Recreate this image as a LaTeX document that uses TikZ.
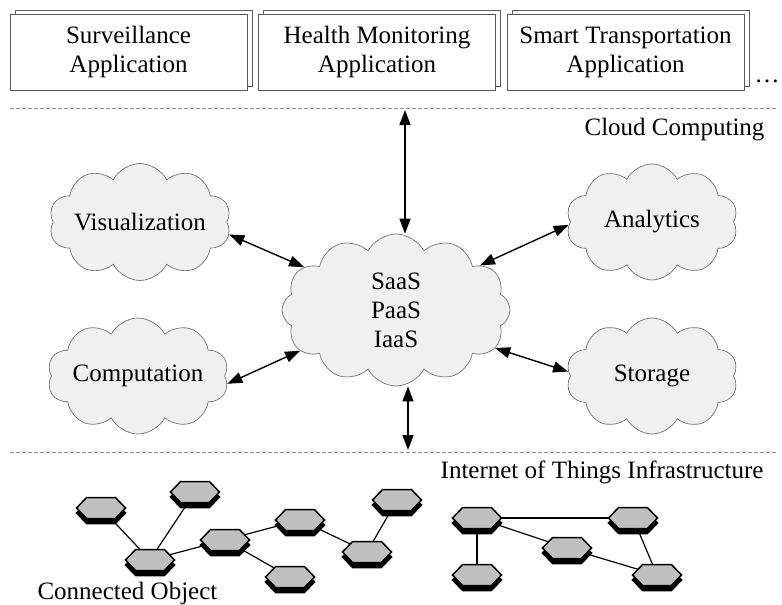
\documentclass[tikz,border=0pt]{standalone}
\usepackage{fontspec}
\setmainfont{Liberation Serif}
\usetikzlibrary{shapes.symbols,shapes.geometric,arrows.meta,shadows,backgrounds}
\begin{document}
\begin{tikzpicture}[x=1pt,y=-1pt,
  font=\fontsize{25}{29}\selectfont,
  appbox/.style={draw=black!65, line width=0.8pt, fill=white, minimum width=237pt, minimum height=76pt,
     align=center, inner sep=0pt,
     copy shadow={shadow xshift=5pt, shadow yshift=4pt, draw=black!65, fill=white}},
  sky/.style={cloud, cloud puffs=10, cloud puff arc=125, cloud ignores aspect, draw=black!55, line width=0.7pt,
     fill=black!6, inner sep=0pt},
  sepline/.style={draw=black!45, line width=0.9pt, dash pattern=on 4pt off 2pt},
  biarrow/.style={line width=1.4pt, {Triangle[length=15pt,width=11pt]}-{Triangle[length=15pt,width=11pt]}},
  hexn/.style={signal, signal to=east and west, signal pointer angle=92, draw=black, line width=1.5pt,
     fill=black!25, minimum width=49pt, minimum height=21pt, inner sep=0pt, outer sep=0pt,
     general shadow={fill=black, draw=black, line width=1.5pt, shadow yshift=-5pt}},
  link/.style={line width=1.2pt, draw=black}
]
\useasboundingbox (0,0) rectangle (782,605);

% application boxes
\node[appbox] (surv) at (128.5,52) {Surveillance\\Application};
\node[appbox] (health) at (377,52) {Health Monitoring\\Application};
\node[appbox] (smart) at (625.5,52) {Smart Transportation\\Application};
\node[anchor=base] (dots) at (767,82) {\ldots};

% separators
\coordinate (s1l) at (10,108);
\coordinate (s1r) at (776,108);
\coordinate (s2l) at (10,452);
\coordinate (s2r) at (776,452);
\draw[sepline] (s1l) -- (s1r);
\draw[sepline] (s2l) -- (s2r);

\node[anchor=east] (cc) at (768,130) {Cloud Computing};
\node[anchor=east] (iot) at (767,472) {Internet of Things Infrastructure};

% clouds
\node[sky, cloud puffs=12, minimum width=228pt, minimum height=152pt, align=center] (saas) at (396,310) {SaaS\\PaaS\\IaaS};
\node[sky, minimum width=176pt, minimum height=117pt] (vis) at (140,222) {Visualization};
\node[sky, minimum width=172pt, minimum height=116pt] (ana) at (652,222) {Analytics};
\node[sky, minimum width=172pt, minimum height=116pt] (comp) at (138,376) {Computation};
\node[sky, minimum width=172pt, minimum height=116pt] (stor) at (652,376) {Storage};

% arrows
\coordinate (topc) at (405,110);
\coordinate (botc) at (408,450);
\draw[biarrow] (topc) -- (topc |- saas.north);
\draw[biarrow] (botc |- saas.south) -- (botc);
\draw[biarrow] (vis.-8) -- (saas.155);
\draw[biarrow] (saas.28) -- (ana.182);
\draw[biarrow] (comp.-5) -- (saas.203);
\draw[biarrow] (saas.-21) -- (stor.177);

% IoT network, left group
\node[hexn] (h1) at (101,508) {};
\node[hexn] (h2) at (195,492) {};
\node[hexn] (h3) at (150,560) {};
\node[hexn] (h4) at (225,540) {};
\node[hexn] (h5) at (300,520) {};
\node[hexn] (h6) at (290,577) {};
\node[hexn] (h7) at (367,552) {};
\node[hexn] (h8) at (397,500) {};
% right group
\node[hexn] (g1) at (477,518) {};
\node[hexn] (g2) at (633,518) {};
\node[hexn] (g3) at (567,548) {};
\node[hexn] (g4) at (477,575) {};
\node[hexn] (g5) at (657,575) {};

\begin{scope}[on background layer]
  \draw[link] (h1.center) -- (h3.center);
  \draw[link] (h2.center) -- (h3.center);
  \draw[link] (h3.center) -- (h4.center);
  \draw[link] (h4.center) -- (h5.center);
  \draw[link] (h4.center) -- (h6.center);
  \draw[link] (h5.center) -- (h7.center);
  \draw[link] (h7.center) -- (h8.center);
  \draw[link] (g1.center) -- (g2.center);
  \draw[link] (g1.center) -- (g3.center);
  \draw[link] (g3.center) -- (g5.center);
  \draw[link] (g2.center) -- (g5.center);
  \draw[link] (g1.center) -- (g4.center);
\end{scope}

\node[anchor=west] (conn) at (34,593) {Connected Object};
\end{tikzpicture}
\end{document}
